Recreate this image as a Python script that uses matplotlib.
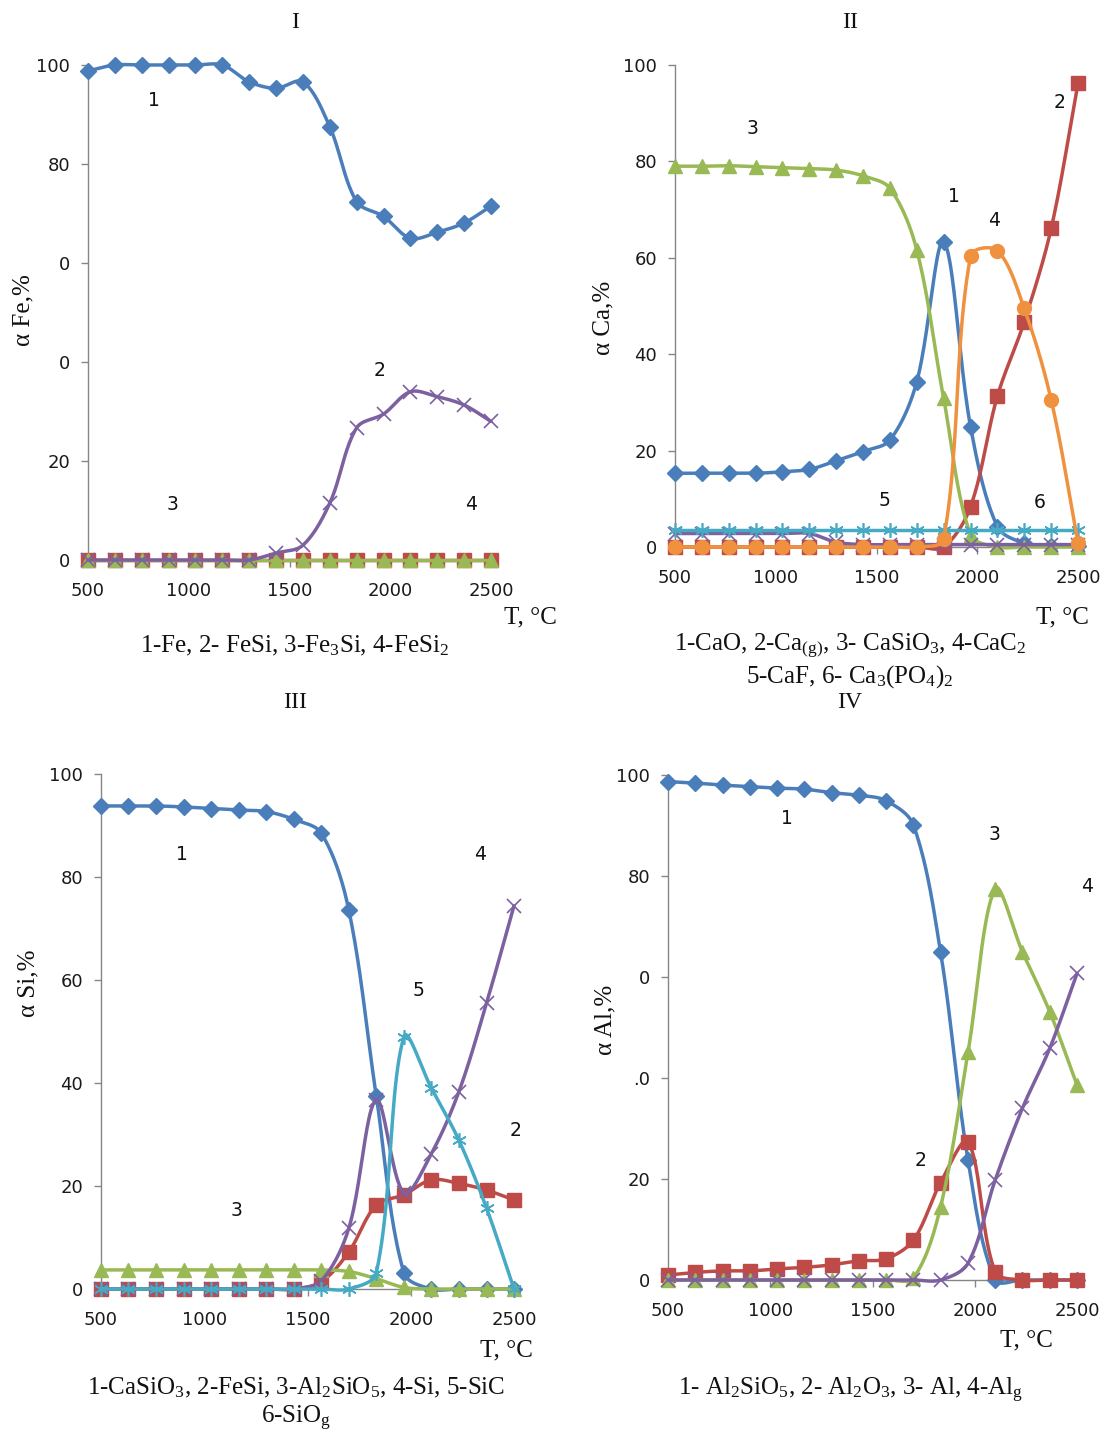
import numpy as np
import matplotlib.pyplot as plt

plt.rcParams['mathtext.fontset'] = 'custom'
plt.rcParams['mathtext.rm'] = 'Liberation Serif'
plt.rcParams['mathtext.it'] = 'Liberation Serif:italic'

# temperature points, degC
T = [500, 633, 767, 900, 1033, 1167, 1300, 1433, 1567, 1700, 1833, 1967, 2100, 2233, 2367, 2500]

# I - Fe distribution
fe_fe = [98.8, 100, 100, 100, 100, 100, 96.6, 95.3, 96.6, 87.5, 72.4, 69.4, 65.0, 66.2, 68.1, 71.5]
fe_fesi = [0, 0, 0, 0, 0, 0, 0, 1.4, 3.0, 11.5, 26.7, 29.5, 34.0, 33.0, 31.3, 28.0]
fe_fe3si = [0, 0, 0, 0, 0, 0, 0, 0, 0, 0, 0, 0, 0, 0, 0, 0]
fe_fesi2 = [0, 0, 0, 0, 0, 0, 0, 0, 0, 0, 0, 0, 0, 0, 0, 0]

# II - Ca distribution
ca_cao = [15.3, 15.3, 15.3, 15.3, 15.6, 16.1, 17.9, 19.8, 22.2, 34.3, 63.3, 24.9, 4.2, 0.8, 0.3, 0.2]
ca_cag = [0, 0, 0, 0, 0, 0, 0, 0, 0, 0, 0, 8.4, 31.3, 46.7, 66.1, 96.2]
ca_casio3 = [79.0, 79.0, 79.1, 78.9, 78.7, 78.5, 78.2, 77.0, 74.4, 61.6, 30.9, 2.5, 0, 0, 0, 0]
ca_cac2 = [0, 0, 0, 0, 0, 0, 0, 0, 0, 0, 1.6, 60.4, 61.5, 49.5, 30.5, 0.9]
ca_caf = [3.5, 3.5, 3.5, 3.5, 3.5, 3.5, 3.5, 3.5, 3.5, 3.5, 3.5, 3.5, 3.5, 3.5, 3.5, 3.5]
ca_po4 = [2.8, 2.8, 2.8, 2.8, 2.8, 2.8, 1.0, 0.5, 0.5, 0.5, 0.5, 0.5, 0.5, 0.5, 0.5, 0.5]

# III - Si distribution
si_casio3 = [93.8, 93.8, 93.8, 93.6, 93.3, 93.0, 92.7, 91.2, 88.5, 73.6, 37.5, 3.1, 0, 0, 0, 0]
si_fesi = [0, 0, 0, 0, 0, 0, 0, 0, 1.4, 7.2, 16.3, 18.3, 21.2, 20.5, 19.2, 17.3]
si_al2sio5 = [3.7, 3.7, 3.7, 3.7, 3.7, 3.7, 3.7, 3.7, 3.7, 3.4, 2.0, 0.3, 0, 0, 0, 0]
si_si = [0, 0, 0, 0, 0, 0, 0, 0, 1.6, 11.8, 36.7, 18.6, 26.3, 38.3, 55.5, 74.4]
si_sic = [0, 0, 0, 0, 0, 0, 0, 0, 0, 0, 3.1, 49.0, 39.0, 28.9, 15.7, 0]

# IV - Al distribution
al_al2sio5 = [98.7, 98.4, 98.0, 97.7, 97.4, 97.2, 96.5, 96.0, 94.9, 90.1, 64.9, 23.8, 0, 0, 0, 0]
al_al2o3 = [1.0, 1.5, 1.8, 1.8, 2.2, 2.5, 3.0, 3.8, 4.2, 7.9, 19.3, 27.4, 1.6, 0, 0, 0]
al_al = [0, 0, 0, 0, 0, 0, 0, 0, 0, 0.4, 14.5, 45.1, 77.5, 65.0, 53.1, 38.6]
al_alg = [0, 0, 0, 0, 0, 0, 0, 0, 0, 0, 0, 3.3, 19.8, 34.0, 45.9, 60.7]

yticks = [0, 20, 40, 60, 80, 100]
ylabels_I = ['0', '20', '0', '0', '80', '100']
ylabels_IV = ['0', '20', '.0', '0', '80', '100']
xticks = [500, 1000, 1500, 2000, 2500]

# excel-ish series styles
BLUE, RED, GREEN, PURPLE, AQUA, ORANGE = '#4a7ebb', '#be4b48', '#98b954', '#7d60a0', '#46aac5', '#f0913f'
STY = {
    'blue': (BLUE, 'D', 8.5, 1.0),
    'red': (RED, 's', 9.5, 1.0),
    'green': (GREEN, '^', 9.5, 1.0),
    'purple': (PURPLE, 'x', 9.5, 1.2),
    'aqua': (AQUA, (6, 2, 0), 10.5, 1.2),
    'orange': (ORANGE, 'o', 10, 1.0),
}

W, H = 1104, 1432
fig = plt.figure(figsize=(W / 100, H / 100), dpi=100)


def smooth(x, y, kx, ky, n=24):
    # excel-like smoothed line: bezier segments, tangents weighted by
    # segment length on screen (kx, ky = pixels per data unit)
    P = np.column_stack([np.asarray(x, float) * kx, np.asarray(y, float) * ky])
    P = np.vstack([P[0], P, P[-1]])
    t = np.linspace(0, 1, n)[:, None]
    out = []
    for i in range(1, len(P) - 2):
        d0 = np.hypot(*(P[i] - P[i - 1]))
        d1 = np.hypot(*(P[i + 1] - P[i]))
        d2 = np.hypot(*(P[i + 2] - P[i + 1]))
        f1 = d1 / (d0 + d1) if d0 + d1 > 0 else 0
        f2 = d1 / (d1 + d2) if d1 + d2 > 0 else 0
        c1 = P[i] + (P[i + 1] - P[i - 1]) * f1 / 3
        c2 = P[i + 1] - (P[i + 2] - P[i]) * f2 / 3
        b = (1 - t) ** 3 * P[i] + 3 * (1 - t) ** 2 * t * c1 + 3 * (1 - t) * t ** 2 * c2 + t ** 3 * P[i + 1]
        out.append(b)
    out = np.vstack(out)
    return out[:, 0] / kx, out[:, 1] / ky


def panel(left, right, top, bottom, series, ylabels):
    ax = fig.add_axes([left / W, 1 - bottom / H, (right - left) / W, (bottom - top) / H])
    kx = (right - left) / 2000
    ky = (bottom - top) / 100
    for z, (vals, key) in enumerate(series):
        c, m, ms, mew = STY[key]
        sx, sy = smooth(T, vals, kx, ky)
        ax.plot(sx, sy, color=c, lw=2.5, clip_on=False, zorder=3 + z,
                solid_capstyle='round')
        ax.plot(T, vals, ls='none', marker=m, ms=ms, mew=mew, color=c,
                clip_on=False, zorder=3 + z)
    ax.set_xlim(500, 2500)
    ax.set_ylim(0, 100)
    ax.set_xticks(xticks)
    ax.set_yticks(yticks)
    ax.set_yticklabels(ylabels)
    for s in ['top', 'right']:
        ax.spines[s].set_visible(False)
    for s in ['left', 'bottom']:
        ax.spines[s].set_color('#868686')
        ax.spines[s].set_linewidth(1.0)
    ax.tick_params(axis='both', direction='out', length=5, width=1,
                   color='#868686', labelsize=13, labelcolor='#1a1a1a')
    ax.tick_params(axis='y', pad=8)
    ax.tick_params(axis='x', pad=11)
    ax.set_facecolor('none')
    return ax


def ftext(x, y, s, size=13, serif=False, **kw):
    fam = 'Liberation Serif' if serif else 'DejaVu Sans'
    fig.text(x / W, 1 - y / H, s, fontsize=size, family=fam,
             ha=kw.pop('ha', 'center'), va=kw.pop('va', 'center'),
             color=kw.pop('color', '#111111'), **kw)


# I
panel(88, 491, 65, 560,
      [(fe_fe, 'blue'), (fe_fesi2, 'red'), (fe_fe3si, 'green'), (fe_fesi, 'purple')],
      ylabels_I)
# II
panel(675, 1078, 65, 547,
      [(ca_cao, 'blue'), (ca_cag, 'red'), (ca_casio3, 'green'), (ca_po4, 'purple'),
       (ca_caf, 'aqua'), (ca_cac2, 'orange')],
      [str(v) for v in yticks])
# III
panel(101, 514, 774, 1289,
      [(si_casio3, 'blue'), (si_fesi, 'red'), (si_al2sio5, 'green'), (si_si, 'purple'),
       (si_sic, 'aqua')],
      [str(v) for v in yticks])
# IV
panel(668, 1077, 775, 1280,
      [(al_al2sio5, 'blue'), (al_al2o3, 'red'), (al_al, 'green'), (al_alg, 'purple')],
      ylabels_IV)

# panel titles
ftext(295, 22, 'I', size=17, serif=True)
ftext(850, 22, 'II', size=17, serif=True)
ftext(295, 703, 'III', size=17, serif=True)
ftext(850, 703, 'IV', size=17, serif=True)

# y axis titles
ftext(23, 310, 'α Fe,%', size=18, serif=True, rotation=90)
ftext(603, 318, 'α Ca,%', size=18, serif=True, rotation=90)
ftext(28, 983, 'α Si,%', size=18, serif=True, rotation=90)
ftext(605, 1020, 'α Al,%', size=18, serif=True, rotation=90)

# x axis titles
ftext(530, 617, 'T, °C', size=18, serif=True)
ftext(1062, 617, 'T, °C', size=18, serif=True)
ftext(506, 1350, 'T, °C', size=18, serif=True)
ftext(1026, 1340, 'T, °C', size=18, serif=True)

# captions
ftext(295, 646, r'1-Fe, 2- FeSi, 3-Fe$_3$Si, 4-FeSi$_2$', size=18, serif=True)
ftext(850, 646, r'1-CaO, 2-Ca$_\mathrm{(g)}$, 3- CaSiO$_3$, 4-CaC$_2$', size=18, serif=True)
ftext(850, 677, r'5-CaF, 6- Ca$_3$(PO$_4$)$_2$', size=18, serif=True)
ftext(296, 1388, r'1-CaSiO$_3$, 2-FeSi, 3-Al$_2$SiO$_5$, 4-Si, 5-SiC', size=18, serif=True)
ftext(296, 1418, r'6-SiO$_\mathrm{g}$', size=18, serif=True)
ftext(851, 1390, r'1- Al$_2$SiO$_5$, 2- Al$_2$O$_3$, 3- Al, 4-Al$_\mathrm{g}$', size=18, serif=True)

# curve numbers
for x, y, s in [(154, 100, '1'), (380, 370, '2'), (173, 504, '3'), (471, 504, '4'),
                (752, 128, '3'), (1060, 102, '2'), (954, 197, '1'), (994, 220, '4'),
                (884, 500, '5'), (1040, 503, '6'),
                (182, 855, '1'), (480, 855, '4'), (419, 991, '5'), (516, 1130, '2'),
                (236, 1211, '3'),
                (787, 819, '1'), (995, 835, '3'), (1087, 887, '4'), (921, 1160, '2')]:
    ftext(x, y, s, size=13.5)

fig.savefig('out.png', dpi=100)
